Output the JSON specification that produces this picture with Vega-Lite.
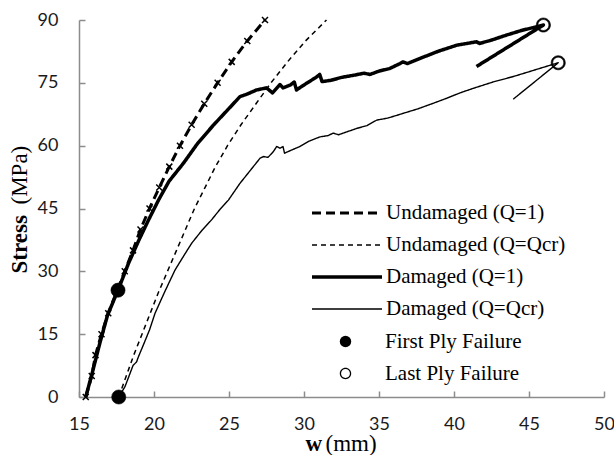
{
  "$schema": "https://vega.github.io/schema/vega-lite/v6.json",
  "autosize": {"type": "none"},
  "width": 525,
  "height": 377,
  "padding": {"left": 79, "top": 20, "right": 10, "bottom": 58},
  "background": "white",
  "datasets": {
    "curves": [
      {"series": "Undamaged (Q=1)", "i": 0, "w": 15.45, "s": 0},
      {"series": "Undamaged (Q=1)", "i": 1, "w": 15.85, "s": 5},
      {"series": "Undamaged (Q=1)", "i": 2, "w": 16.1, "s": 10},
      {"series": "Undamaged (Q=1)", "i": 3, "w": 16.5, "s": 15},
      {"series": "Undamaged (Q=1)", "i": 4, "w": 16.95, "s": 20},
      {"series": "Undamaged (Q=1)", "i": 5, "w": 17.5, "s": 25},
      {"series": "Undamaged (Q=1)", "i": 6, "w": 18.05, "s": 30},
      {"series": "Undamaged (Q=1)", "i": 7, "w": 18.6, "s": 35},
      {"series": "Undamaged (Q=1)", "i": 8, "w": 19.1, "s": 40},
      {"series": "Undamaged (Q=1)", "i": 9, "w": 19.7, "s": 45},
      {"series": "Undamaged (Q=1)", "i": 10, "w": 20.35, "s": 50},
      {"series": "Undamaged (Q=1)", "i": 11, "w": 21.02, "s": 55},
      {"series": "Undamaged (Q=1)", "i": 12, "w": 21.73, "s": 60},
      {"series": "Undamaged (Q=1)", "i": 13, "w": 22.51, "s": 65},
      {"series": "Undamaged (Q=1)", "i": 14, "w": 23.35, "s": 70},
      {"series": "Undamaged (Q=1)", "i": 15, "w": 24.24, "s": 75},
      {"series": "Undamaged (Q=1)", "i": 16, "w": 25.18, "s": 80},
      {"series": "Undamaged (Q=1)", "i": 17, "w": 26.22, "s": 85},
      {"series": "Undamaged (Q=1)", "i": 18, "w": 27.4, "s": 90},

      {"series": "Undamaged (Q=Qcr)", "i": 0, "w": 17.65, "s": 0},
      {"series": "Undamaged (Q=Qcr)", "i": 1, "w": 18.15, "s": 5},
      {"series": "Undamaged (Q=Qcr)", "i": 2, "w": 18.65, "s": 10},
      {"series": "Undamaged (Q=Qcr)", "i": 3, "w": 19.2, "s": 15},
      {"series": "Undamaged (Q=Qcr)", "i": 4, "w": 19.75, "s": 20},
      {"series": "Undamaged (Q=Qcr)", "i": 5, "w": 20.3, "s": 25},
      {"series": "Undamaged (Q=Qcr)", "i": 6, "w": 20.9, "s": 30},
      {"series": "Undamaged (Q=Qcr)", "i": 7, "w": 21.5, "s": 35},
      {"series": "Undamaged (Q=Qcr)", "i": 8, "w": 22.1, "s": 40},
      {"series": "Undamaged (Q=Qcr)", "i": 9, "w": 22.7, "s": 45},
      {"series": "Undamaged (Q=Qcr)", "i": 10, "w": 23.4, "s": 50},
      {"series": "Undamaged (Q=Qcr)", "i": 11, "w": 24.1, "s": 55},
      {"series": "Undamaged (Q=Qcr)", "i": 12, "w": 24.9, "s": 60},
      {"series": "Undamaged (Q=Qcr)", "i": 13, "w": 25.8, "s": 65},
      {"series": "Undamaged (Q=Qcr)", "i": 14, "w": 26.8, "s": 70},
      {"series": "Undamaged (Q=Qcr)", "i": 15, "w": 27.8, "s": 75},
      {"series": "Undamaged (Q=Qcr)", "i": 16, "w": 28.9, "s": 80},
      {"series": "Undamaged (Q=Qcr)", "i": 17, "w": 30.1, "s": 85},
      {"series": "Undamaged (Q=Qcr)", "i": 18, "w": 31.5, "s": 90},

      {"series": "Damaged (Q=1)", "i": 0, "w": 15.45, "s": 0},
      {"series": "Damaged (Q=1)", "i": 1, "w": 15.9, "s": 6},
      {"series": "Damaged (Q=1)", "i": 2, "w": 16.4, "s": 13},
      {"series": "Damaged (Q=1)", "i": 3, "w": 16.9, "s": 19.5},
      {"series": "Damaged (Q=1)", "i": 4, "w": 17.6, "s": 25.5},
      {"series": "Damaged (Q=1)", "i": 5, "w": 18.3, "s": 31.9},
      {"series": "Damaged (Q=1)", "i": 6, "w": 19.0, "s": 37.5},
      {"series": "Damaged (Q=1)", "i": 7, "w": 19.6, "s": 42},
      {"series": "Damaged (Q=1)", "i": 8, "w": 20.3, "s": 47},
      {"series": "Damaged (Q=1)", "i": 9, "w": 21.0, "s": 51.5},
      {"series": "Damaged (Q=1)", "i": 10, "w": 21.96, "s": 55.8},
      {"series": "Damaged (Q=1)", "i": 11, "w": 22.9, "s": 60.5},
      {"series": "Damaged (Q=1)", "i": 12, "w": 23.96, "s": 64.9},
      {"series": "Damaged (Q=1)", "i": 13, "w": 24.9, "s": 68.5},
      {"series": "Damaged (Q=1)", "i": 14, "w": 25.73, "s": 71.7},
      {"series": "Damaged (Q=1)", "i": 15, "w": 26.2, "s": 72.3},
      {"series": "Damaged (Q=1)", "i": 16, "w": 26.84, "s": 73.3},
      {"series": "Damaged (Q=1)", "i": 17, "w": 27.5, "s": 73.8},
      {"series": "Damaged (Q=1)", "i": 18, "w": 27.9, "s": 72.6},
      {"series": "Damaged (Q=1)", "i": 19, "w": 28.4, "s": 74.6},
      {"series": "Damaged (Q=1)", "i": 20, "w": 28.6, "s": 73.8},
      {"series": "Damaged (Q=1)", "i": 21, "w": 29.1, "s": 74.5},
      {"series": "Damaged (Q=1)", "i": 22, "w": 29.35, "s": 75.2},
      {"series": "Damaged (Q=1)", "i": 23, "w": 29.5, "s": 73.3},
      {"series": "Damaged (Q=1)", "i": 24, "w": 30.0, "s": 74.5},
      {"series": "Damaged (Q=1)", "i": 25, "w": 30.8, "s": 76.3},
      {"series": "Damaged (Q=1)", "i": 26, "w": 31.05, "s": 77.0},
      {"series": "Damaged (Q=1)", "i": 27, "w": 31.2, "s": 75.3},
      {"series": "Damaged (Q=1)", "i": 28, "w": 31.8, "s": 75.6},
      {"series": "Damaged (Q=1)", "i": 29, "w": 32.5, "s": 76.3},
      {"series": "Damaged (Q=1)", "i": 30, "w": 33.3, "s": 76.8},
      {"series": "Damaged (Q=1)", "i": 31, "w": 34.0, "s": 77.3},
      {"series": "Damaged (Q=1)", "i": 32, "w": 34.4, "s": 77.0},
      {"series": "Damaged (Q=1)", "i": 33, "w": 35.0, "s": 77.8},
      {"series": "Damaged (Q=1)", "i": 34, "w": 35.7, "s": 78.4},
      {"series": "Damaged (Q=1)", "i": 35, "w": 36.4, "s": 79.6},
      {"series": "Damaged (Q=1)", "i": 36, "w": 36.6, "s": 80.0},
      {"series": "Damaged (Q=1)", "i": 37, "w": 36.9, "s": 79.6},
      {"series": "Damaged (Q=1)", "i": 38, "w": 38.0, "s": 81.2},
      {"series": "Damaged (Q=1)", "i": 39, "w": 39.0, "s": 82.6},
      {"series": "Damaged (Q=1)", "i": 40, "w": 40.2, "s": 84.0},
      {"series": "Damaged (Q=1)", "i": 41, "w": 41.5, "s": 84.8},
      {"series": "Damaged (Q=1)", "i": 42, "w": 41.7, "s": 84.4},
      {"series": "Damaged (Q=1)", "i": 43, "w": 42.5, "s": 85.2},
      {"series": "Damaged (Q=1)", "i": 44, "w": 43.5, "s": 86.4},
      {"series": "Damaged (Q=1)", "i": 45, "w": 44.5, "s": 87.5},
      {"series": "Damaged (Q=1)", "i": 46, "w": 45.4, "s": 88.3},
      {"series": "Damaged (Q=1)", "i": 47, "w": 45.96, "s": 88.8},
      {"series": "Damaged (Q=1)", "i": 48, "w": 41.5, "s": 78.9},

      {"series": "Damaged (Q=Qcr)", "i": 0, "w": 17.65, "s": 0},
      {"series": "Damaged (Q=Qcr)", "i": 1, "w": 18.07, "s": 2.5},
      {"series": "Damaged (Q=Qcr)", "i": 2, "w": 18.6, "s": 7.5},
      {"series": "Damaged (Q=Qcr)", "i": 3, "w": 18.84, "s": 8.4},
      {"series": "Damaged (Q=Qcr)", "i": 4, "w": 18.95, "s": 9.5},
      {"series": "Damaged (Q=Qcr)", "i": 5, "w": 19.3, "s": 12.5},
      {"series": "Damaged (Q=Qcr)", "i": 6, "w": 19.7, "s": 16},
      {"series": "Damaged (Q=Qcr)", "i": 7, "w": 20.07, "s": 20},
      {"series": "Damaged (Q=Qcr)", "i": 8, "w": 20.7, "s": 25},
      {"series": "Damaged (Q=Qcr)", "i": 9, "w": 21.4, "s": 30.3},
      {"series": "Damaged (Q=Qcr)", "i": 10, "w": 22.0, "s": 33.8},
      {"series": "Damaged (Q=Qcr)", "i": 11, "w": 22.51, "s": 36.7},
      {"series": "Damaged (Q=Qcr)", "i": 12, "w": 23.2, "s": 39.8},
      {"series": "Damaged (Q=Qcr)", "i": 13, "w": 23.84, "s": 42.3},
      {"series": "Damaged (Q=Qcr)", "i": 14, "w": 24.4, "s": 44.8},
      {"series": "Damaged (Q=Qcr)", "i": 15, "w": 24.96, "s": 47},
      {"series": "Damaged (Q=Qcr)", "i": 16, "w": 25.73, "s": 51},
      {"series": "Damaged (Q=Qcr)", "i": 17, "w": 26.4, "s": 54},
      {"series": "Damaged (Q=Qcr)", "i": 18, "w": 27.07, "s": 57},
      {"series": "Damaged (Q=Qcr)", "i": 19, "w": 27.3, "s": 57.4},
      {"series": "Damaged (Q=Qcr)", "i": 20, "w": 27.6, "s": 57.2},
      {"series": "Damaged (Q=Qcr)", "i": 21, "w": 27.96, "s": 58.6},
      {"series": "Damaged (Q=Qcr)", "i": 22, "w": 28.18, "s": 59.8},
      {"series": "Damaged (Q=Qcr)", "i": 23, "w": 28.4, "s": 59.4},
      {"series": "Damaged (Q=Qcr)", "i": 24, "w": 28.6, "s": 59.8},
      {"series": "Damaged (Q=Qcr)", "i": 25, "w": 28.7, "s": 58.2},
      {"series": "Damaged (Q=Qcr)", "i": 26, "w": 29.2, "s": 59.0},
      {"series": "Damaged (Q=Qcr)", "i": 27, "w": 29.73, "s": 59.8},
      {"series": "Damaged (Q=Qcr)", "i": 28, "w": 30.3, "s": 61},
      {"series": "Damaged (Q=Qcr)", "i": 29, "w": 30.84, "s": 61.8},
      {"series": "Damaged (Q=Qcr)", "i": 30, "w": 31.07, "s": 62.1},
      {"series": "Damaged (Q=Qcr)", "i": 31, "w": 31.6, "s": 62.4},
      {"series": "Damaged (Q=Qcr)", "i": 32, "w": 31.95, "s": 63},
      {"series": "Damaged (Q=Qcr)", "i": 33, "w": 32.3, "s": 62.6},
      {"series": "Damaged (Q=Qcr)", "i": 34, "w": 33.5, "s": 64.1},
      {"series": "Damaged (Q=Qcr)", "i": 35, "w": 34.2, "s": 64.8},
      {"series": "Damaged (Q=Qcr)", "i": 36, "w": 34.85, "s": 66.1},
      {"series": "Damaged (Q=Qcr)", "i": 37, "w": 35.6, "s": 66.6},
      {"series": "Damaged (Q=Qcr)", "i": 38, "w": 36.6, "s": 67.7},
      {"series": "Damaged (Q=Qcr)", "i": 39, "w": 37.6, "s": 68.8},
      {"series": "Damaged (Q=Qcr)", "i": 40, "w": 38.6, "s": 70.1},
      {"series": "Damaged (Q=Qcr)", "i": 41, "w": 39.5, "s": 71.3},
      {"series": "Damaged (Q=Qcr)", "i": 42, "w": 40.4, "s": 72.6},
      {"series": "Damaged (Q=Qcr)", "i": 43, "w": 41.3, "s": 73.7},
      {"series": "Damaged (Q=Qcr)", "i": 44, "w": 42.6, "s": 75.2},
      {"series": "Damaged (Q=Qcr)", "i": 45, "w": 43.95, "s": 76.5},
      {"series": "Damaged (Q=Qcr)", "i": 46, "w": 45.5, "s": 78.2},
      {"series": "Damaged (Q=Qcr)", "i": 47, "w": 46.95, "s": 79.8},
      {"series": "Damaged (Q=Qcr)", "i": 48, "w": 43.95, "s": 71.1}
    ],
    "failures": [
      {"series": "First Ply Failure", "w": 17.6, "s": 25.5},
      {"series": "First Ply Failure", "w": 17.65, "s": 0},
      {"series": "Last Ply Failure", "w": 45.96, "s": 88.8},
      {"series": "Last Ply Failure", "w": 46.95, "s": 79.8}
    ]
  },
  "layer": [
    {
      "data": {"name": "curves"},
      "mark": {"type": "line", "stroke": "black", "strokeCap": "butt", "strokeJoin": "round"},
      "encoding": {
        "x": {"field": "w", "type": "quantitative",
          "scale": {"domain": [15, 50], "nice": false, "zero": false},
          "axis": {"values": [15, 20, 25, 30, 35, 40, 45, 50], "title": "w", "titleFontWeight": "bold",
            "titleAlign": "left", "titleX": 226, "titleY": 53, "titleBaseline": "alphabetic", "titleAngle": 0}},
        "y": {"field": "s", "type": "quantitative",
          "scale": {"domain": [0, 90], "nice": false},
          "axis": {"values": [0, 15, 30, 45, 60, 75, 90], "title": "Stress", "titleFontWeight": "bold",
            "titleAlign": "left", "titleX": -60, "titleY": 253, "titleBaseline": "middle", "titleAngle": -90}},
        "order": {"field": "i", "type": "quantitative"},
        "strokeDash": {"field": "series", "type": "nominal",
          "scale": {"domain": ["Undamaged (Q=1)", "Undamaged (Q=Qcr)", "Damaged (Q=1)", "Damaged (Q=Qcr)"],
            "range": [[9, 5], [5, 4], [1, 0], [1, 0]]},
          "legend": {
            "title": null, "orient": "none", "legendX": 231, "legendY": 183,
            "symbolType": "stroke", "symbolSize": 4900, "symbolStrokeColor": "black",
            "labelFont": "Liberation Serif", "labelFontSize": 21, "labelColor": "black", "labelOffset": 2, "labelLimit": 400,
            "rowPadding": 11, "padding": 0,
            "encode": {
              "symbols": {"update": {"y": {"value": 10}}},
              "labels": {"update": {"y": {"value": 10}}}
            }
          }},
        "strokeWidth": {"field": "series", "type": "nominal",
          "scale": {"type": "ordinal", "domain": ["Undamaged (Q=1)", "Undamaged (Q=Qcr)", "Damaged (Q=1)", "Damaged (Q=Qcr)"],
            "range": [3, 1.5, 3.5, 1.4]}}
      }
    },
    {
      "data": {"name": "curves"},
      "transform": [{"filter": "datum.series === 'Undamaged (Q=1)'"}],
      "mark": {"type": "point", "shape": "M-1,-1L1,1M-1,1L1,-1", "size": 36, "stroke": "black", "strokeWidth": 1.5, "opacity": 1, "filled": false},
      "encoding": {
        "x": {"field": "w", "type": "quantitative", "axis": null},
        "y": {"field": "s", "type": "quantitative", "axis": null}
      }
    },
    {
      "data": {"name": "failures"},
      "mark": {"type": "point", "filled": true, "stroke": "black", "strokeWidth": 0.6, "opacity": 1, "size": 200},
      "encoding": {
        "x": {"field": "w", "type": "quantitative",
          "axis": {"orient": "bottom", "domain": false, "ticks": false, "labels": false, "grid": false,
            "title": "(mm)", "titleFontWeight": "normal", "titleAlign": "left", "titleX": 246, "titleY": 53, "titleBaseline": "alphabetic", "titleAngle": 0}},
        "y": {"field": "s", "type": "quantitative",
          "axis": {"orient": "left", "domain": false, "ticks": false, "labels": false, "grid": false,
            "title": "(MPa)", "titleFontWeight": "normal", "titleAlign": "left", "titleX": -60, "titleY": 184, "titleBaseline": "middle", "titleAngle": -90}},
        "shape": {"field": "series", "type": "nominal",
          "scale": {"domain": ["First Ply Failure", "Last Ply Failure"],
            "range": ["circle", "M-1,0A1,1 0 1,0 1,0A1,1 0 1,0 -1,0Z M-0.78,0A0.78,0.78 0 1,1 0.78,0A0.78,0.78 0 1,1 -0.78,0Z"]},
          "legend": {
            "title": null, "orient": "none", "legendX": 256, "legendY": 311,
            "symbolSize": 130, "symbolStrokeColor": "black", "symbolStrokeWidth": 0.6,
            "labelFont": "Liberation Serif", "labelFontSize": 21, "labelColor": "black", "labelOffset": 29, "labelLimit": 400,
            "rowPadding": 10, "padding": 0
          }},
        "fill": {"field": "series", "type": "nominal",
          "scale": {"domain": ["First Ply Failure", "Last Ply Failure"], "range": ["black", "black"]},
          "legend": {
            "title": null, "orient": "none", "legendX": 256, "legendY": 311,
            "symbolSize": 130, "symbolStrokeColor": "black", "symbolStrokeWidth": 0.6,
            "labelFont": "Liberation Serif", "labelFontSize": 21, "labelColor": "black", "labelOffset": 29, "labelLimit": 400,
            "rowPadding": 10, "padding": 0
          }}
      }
    }
  ],
  "resolve": {"axis": {"x": "independent", "y": "independent"}},
  "config": {
    "view": {"stroke": null},
    "axis": {
      "grid": false,
      "domainColor": "#8c8c8c", "domainWidth": 1.5,
      "tickColor": "#8c8c8c", "tickWidth": 1.5, "tickSize": -6,
      "labelFont": "Lato", "labelFontSize": 18, "labelColor": "#1a1a1a", "labelFlush": false,
      "titleFont": "Liberation Serif", "titleFontSize": 23, "titleColor": "black"
    },
    "axisX": {"labelPadding": 24},
    "axisY": {"labelPadding": 27},
    "legend": {"symbolStrokeColor": "black"}
  }
}
